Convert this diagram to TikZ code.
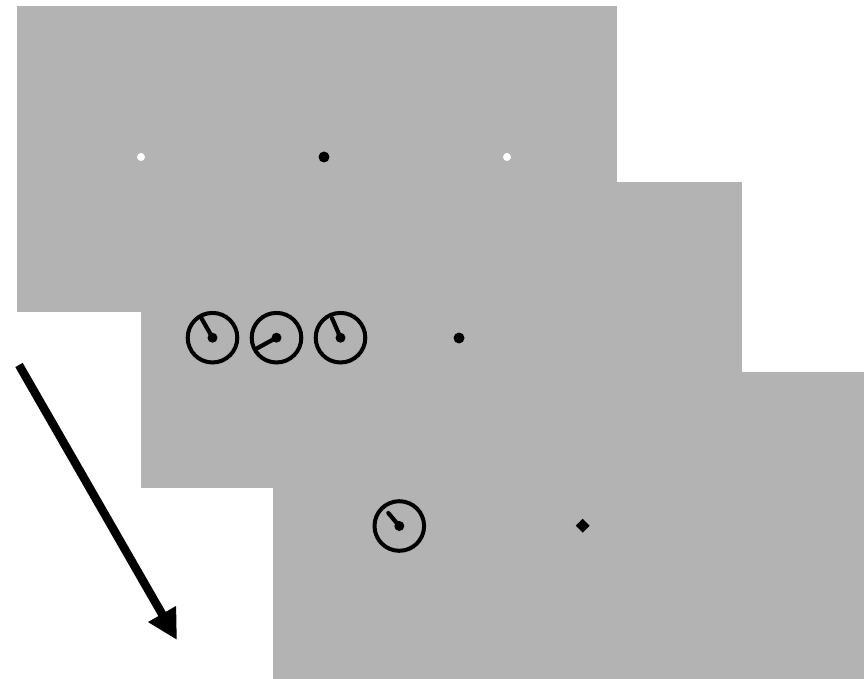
\documentclass[tikz,border=0pt]{standalone}
\usetikzlibrary{arrows.meta,shapes.geometric}
\definecolor{screen}{RGB}{179,179,179}
\tikzset{
  panel/.style={fill=screen, draw=none},
  dial/.style={draw=black, line width=4pt},
  needle/.style={draw=black, line width=4.2pt, line cap=round},
  hub/.style={circle, fill=black, inner sep=0pt, minimum size=10pt},
  fixdot/.style={circle, fill=black, inner sep=0pt, minimum size=11pt},
  cue/.style={circle, fill=white, inner sep=0pt, minimum size=8pt},
  probe/.style={diamond, fill=black, inner sep=0pt, minimum size=14pt},
}
\begin{document}
\begin{tikzpicture}[x=1pt, y=-1pt]
  \useasboundingbox (0,0) rectangle (864,679);
  % three stacked screens
  \fill[panel] (16.5,6) rectangle (617,312);
  \fill[panel] (141,182) rectangle (742,488);
  \fill[panel] (273,371.5) rectangle (864,679);

  % first screen: fixation point and two cues
  \node[cue] (cueL) at (141,157) {};
  \node[fixdot] (fix1) at (324,157) {};
  \node[cue] (cueR) at (507,157) {};

  % second screen: three clocks and fixation point
  \foreach \n/\cx/\dx/\dy in {c1/212.5/-11/-19.4, c2/276.5/-20.7/11.3, c3/340.5/-8.4/-19.4} {
    \draw[dial] (\cx,337.7) circle (24.8);
    \node[hub] (\n) at (\cx,337.7) {};
    \draw[needle] (\n.center) -- +(\dx,\dy);
  }
  \node[fixdot] (fix2) at (459,338) {};

  % third screen: probe clock and diamond
  \draw[dial] (399.3,526) circle (24.8);
  \node[hub] (c4) at (399.3,526) {};
  \draw[needle] (c4.center) -- +(-11,-13);
  \node[probe] (diam) at (582.7,525.7) {};

  % time arrow
  \coordinate (tStart) at (19,365);
  \coordinate (tEnd) at (177,640);
  \draw[line width=8.5pt, -{Triangle[length=30pt,width=30pt]}] (tStart) -- (tEnd);
\end{tikzpicture}
\end{document}
